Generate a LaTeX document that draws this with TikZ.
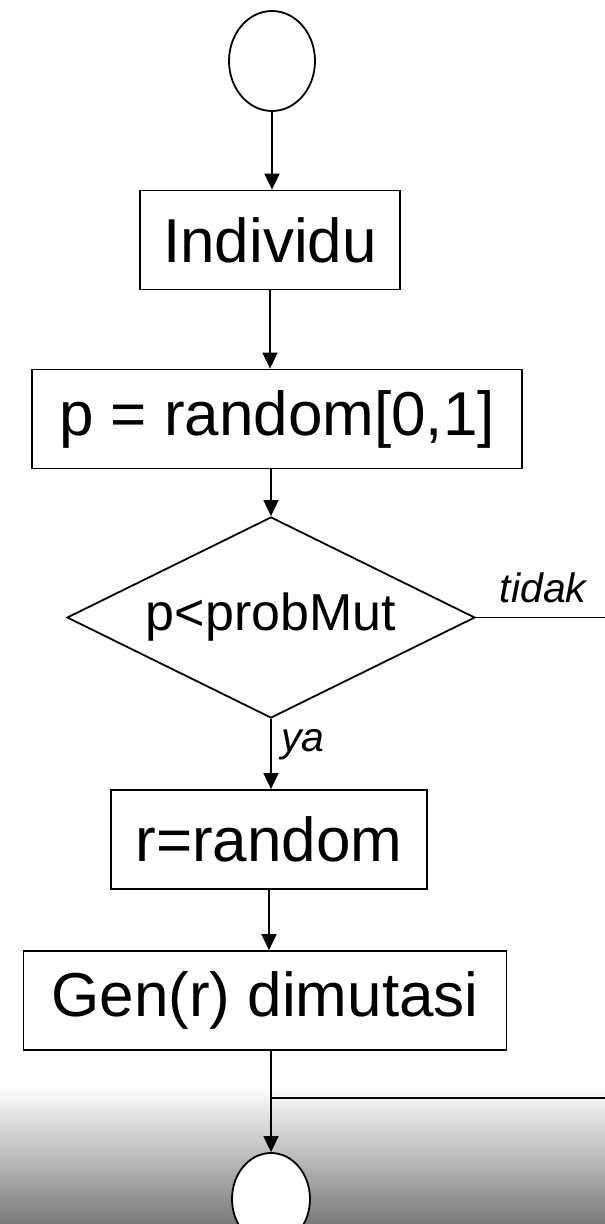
\documentclass[tikz,border=0pt]{standalone}
\usepackage{fontspec}
\setmainfont{Liberation Sans}
\usetikzlibrary{arrows.meta,shapes.geometric,positioning}

\begin{document}
\begin{tikzpicture}[x=1pt,y=-1pt,
  box/.style={draw,line width=1.8pt,minimum height=99pt,inner sep=0pt,font=\fontsize{62}{70}\selectfont},
  term/.style={draw,ellipse,line width=1.8pt,fill=white,inner sep=0pt},
  cond/.style={draw,diamond,aspect=2,line width=1.8pt,inner sep=0pt,font=\fontsize{52}{60}\selectfont},
  lbl/.style={font=\fontsize{41}{48}\selectfont\itshape,inner sep=0pt},
  arr/.style={line width=1.8pt,-{Triangle[length=16pt,width=15pt]}},
  ln/.style={line width=1.8pt}]
\useasboundingbox (0,0) rectangle (605,1224);
% background of the slide
\shade[top color=white,middle color=black!13,bottom color=black!52] (0,1085) rectangle (605,1224);
% flow
\node[term,minimum width=86pt,minimum height=100pt] (start) at (272,61) {};
\node[box,minimum width=260pt] (indiv) at (270,240) {Individu};
\node[box,minimum width=490pt] (prand) at (277,419) {p = random[0,1]};
\node[cond,minimum width=408pt,minimum height=201pt] (cek) at (271,617.5) {p<probMut};
\node[box,minimum width=316pt] (rrand) at (269,839.5) {r=random};
\node[box,minimum width=483pt] (mutasi) at (265,1000.5) {Gen(r) dimutasi};
\node[term,minimum width=78pt,minimum height=92pt] (stop) at (271,1199) {};
\coordinate (tidakEnd) at (605,617.5);
\coordinate (gabung) at (271,1098);
\coordinate (gabungEnd) at (605,1098);
% connectors
\draw[arr] (start.south) -- (start.south |- indiv.north);
\draw[arr] (indiv.south) -- (indiv.south |- prand.north);
\draw[arr] (cek.north |- prand.south) -- (cek.north);
\draw[arr] (cek.south) -- (cek.south |- rrand.north);
\draw[arr] (rrand.south) -- (rrand.south |- mutasi.north);
\draw[arr] (mutasi.south -| stop) -- (stop);
\draw[ln] (cek.east) -- (tidakEnd) node[lbl,anchor=base,pos=0.52,yshift=15pt] (tidak) {tidak};
\draw[ln] (gabung) -- (gabungEnd);
\node[lbl,anchor=base west] (ya) at (281,751) {ya};
\end{tikzpicture}
\end{document}
